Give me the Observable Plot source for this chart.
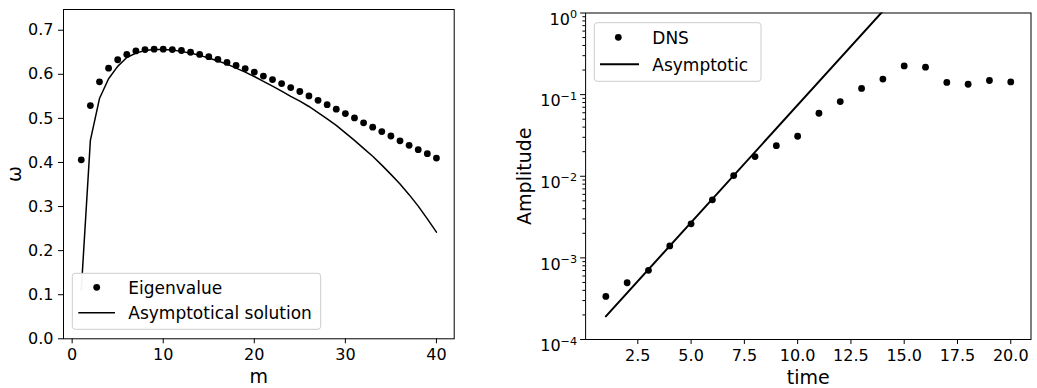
<!DOCTYPE html>
<html>
<head>
<meta charset="utf-8">
<script src="https://cdn.jsdelivr.net/npm/d3@7"></script>
<script src="https://cdn.jsdelivr.net/npm/@observablehq/plot@0.6"></script>
<style>
  html, body { margin: 0; padding: 0; background: white; }
  #wrap { position: relative; width: 1037px; height: 388px; overflow: hidden; font-family: "DejaVu Sans", sans-serif; }
  #left { position: absolute; left: 0; top: 0; }
  #right { position: absolute; left: 500px; top: 0; }
  #overlay { position: absolute; left: 0; top: 0; pointer-events: none; }
</style>
</head>
<body>
<div id="wrap">
  <div id="left"></div>
  <div id="right"></div>
</div>
<script>
// ---- Left panel data ----
const eigM = [1,2,3,4,5,6,7,8,9,10,11,12,13,14,15,16,17,18,19,20,21,22,23,24,25,26,27,28,29,30,31,32,33,34,35,36,37,38,39,40];
const eigOmega = [0.406,0.529,0.583,0.614,0.633,0.645,0.653,0.656,0.657,0.657,0.656,0.654,0.650,0.645,0.640,0.634,0.627,0.620,0.613,0.605,0.596,0.588,0.579,0.570,0.561,0.551,0.541,0.531,0.521,0.511,0.501,0.490,0.480,0.470,0.460,0.449,0.439,0.429,0.420,0.410];
const asymM = [1,2,3,4,5,6,7,8,9,10,11,12,13,14,15,16,17,18,19,20,21,22,23,24,25,26,27,28,29,30,31,32,33,34,35,36,37,38,39,40];
const asymOmega = [0.110,0.450,0.545,0.590,0.618,0.638,0.648,0.654,0.656,0.656,0.655,0.652,0.648,0.643,0.637,0.630,0.623,0.614,0.605,0.595,0.584,0.573,0.562,0.550,0.539,0.527,0.513,0.499,0.484,0.467,0.450,0.432,0.414,0.394,0.373,0.351,0.327,0.301,0.272,0.242];
const leftXTicks = [0,10,20,30,40];
const leftYTicks = [0,0.1,0.2,0.3,0.4,0.5,0.6,0.7];

// ---- Right panel data ----
const dnsTime = [1,2,3,4,5,6,7,8,9,10,11,12,13,14,15,16,17,18,19,20];
const dnsAmp = [3.37e-4,4.96e-4,7.04e-4,1.40e-3,2.61e-3,5.14e-3,1.02e-2,1.74e-2,2.37e-2,3.09e-2,5.91e-2,8.22e-2,0.119,0.155,0.225,0.217,0.141,0.134,0.149,0.143];
const asymTime = [1,14];
const asymAmp = [1.92e-4,1.054];
const rightXTicks = [2.5,5,7.5,10,12.5,15,17.5,20];
const rightYTicks = [1e-4,1e-3,1e-2,1e-1,1];
const rightYExp = ["\u22124","\u22123","\u22122","\u22121","0"];
const rightYMinor = [];
for (const dec of [1e-4,1e-3,1e-2,1e-1]) for (const k of [2,3,4,5,6,7,8,9]) rightYMinor.push(k*dec);

const baseStyle = {fontFamily: "DejaVu Sans", fontSize: "16px", color: "black", background: "white", overflow: "visible"};

const leftRows = eigM.map((m,i)=>({m, w: eigOmega[i]}));
const leftLine = asymM.map((m,i)=>({m, w: asymOmega[i]}));

const labelOpts = {textAnchor: "middle", lineAnchor: "middle", fontSize: 19};

const left = Plot.plot({
  width: 500, height: 388,
  marginLeft: 63, marginRight: 46.3, marginTop: 9, marginBottom: 49.7,
  style: baseStyle,
  x: {domain: [-0.95, 41.95]},
  y: {domain: [0, 0.747]},
  marks: [
    Plot.line(leftLine, {x: "m", y: "w", stroke: "black", strokeWidth: 1.5}),
    Plot.dot(leftRows, {x: "m", y: "w", r: 3.4, fill: "black", stroke: null}),
    Plot.frame({stroke: "black", strokeWidth: 1}),
    Plot.axisX({ticks: leftXTicks, tickSize: 5, tickPadding: 5, label: null, tickFormat: d => String(d)}),
    Plot.axisY({ticks: leftYTicks, tickSize: 5, tickPadding: 5, label: null, tickFormat: d => d.toFixed(1)}),
    Plot.text(["m"], {...labelOpts, text: d => d, frameAnchor: "bottom", dy: 38}),
    Plot.text(["\u03c9"], {...labelOpts, text: d => d, frameAnchor: "left", dx: -49, rotate: -90})
  ]
});
document.getElementById("left").appendChild(left);

const dnsRows = dnsTime.map((t,i)=>({t, a: dnsAmp[i]}));
const asymRows = asymTime.map((t,i)=>({t, a: asymAmp[i]}));

const right = Plot.plot({
  width: 537, height: 388,
  marginLeft: 85.1, marginRight: 6.5, marginTop: 12.5, marginBottom: 49,
  style: baseStyle,
  x: {domain: [0.05, 20.95]},
  y: {type: "log", domain: [1e-4, 1]},
  marks: [
    Plot.line(asymRows, {x: "t", y: "a", stroke: "black", strokeWidth: 2, clip: true}),
    Plot.dot(dnsRows, {x: "t", y: "a", r: 3.4, fill: "black", stroke: null}),
    Plot.frame({stroke: "black", strokeWidth: 1}),
    Plot.axisX({ticks: rightXTicks, tickSize: 5, tickPadding: 5, label: null, tickFormat: d => d.toFixed(1)}),
    Plot.axisY({ticks: rightYMinor, tickSize: 2.7, label: null, tickFormat: () => ""}),
    Plot.axisY({ticks: rightYTicks, tickSize: 5, tickPadding: 3.5, label: null,
      tickFormat: d => "10|" + rightYExp[rightYTicks.indexOf(d)]}),
    Plot.text(["time"], {...labelOpts, text: d => d, frameAnchor: "bottom", dy: 38}),
    Plot.text(["Amplitude"], {...labelOpts, text: d => d, frameAnchor: "left", dx: -60.6, rotate: -90})
  ]
});
document.getElementById("right").appendChild(right);

// superscript exponents on log tick labels
d3.select(right).selectAll("text").each(function() {
  const t = this.textContent;
  if (!t.includes("|")) return;
  const [b, e] = t.split("|");
  const sel = d3.select(this);
  sel.text(null);
  sel.attr("dy", "0.42em");
  sel.append("tspan").text(b);
  sel.append("tspan").attr("dy", "-6.8px").attr("font-size", "11.2px").text(e);
});

// legends
const overlay = d3.select("#wrap").append("svg")
  .attr("id", "overlay").attr("width", 1037).attr("height", 388)
  .style("font-family", "DejaVu Sans").style("font-size", "17px");

function legend(box, entries) {
  const g = overlay.append("g");
  g.append("rect").attr("x", box.x).attr("y", box.y).attr("width", box.w).attr("height", box.h)
    .attr("rx", 3).attr("fill", "white").attr("fill-opacity", 0.95).attr("stroke", "#cccccc").attr("stroke-width", 1);
  for (const e of entries) {
    if (e.kind === "dot") {
      g.append("circle").attr("cx", e.sx).attr("cy", e.cy).attr("r", 3.4).attr("fill", "black");
    } else {
      g.append("line").attr("x1", e.sx1).attr("x2", e.sx2).attr("y1", e.cy).attr("y2", e.cy)
        .attr("stroke", "black").attr("stroke-width", e.sw);
    }
    g.append("text").attr("x", e.tx).attr("y", e.cy + 6.2).attr("fill", "black").text(e.label);
  }
}
legend({x: 72.3, y: 273.3, w: 248.4, h: 56}, [
  {kind: "dot", sx: 96.7, cy: 287.3, tx: 128.3, label: "Eigenvalue"},
  {kind: "line", sx1: 78.3, sx2: 115, cy: 312.7, sw: 1.5, tx: 128.3, label: "Asymptotical solution"}
]);
legend({x: 594.3, y: 22.7, w: 166.7, h: 58.6}, [
  {kind: "dot", sx: 618.3, cy: 37.3, tx: 652.3, label: "DNS"},
  {kind: "line", sx1: 600, sx2: 639, cy: 64.3, sw: 2, tx: 652.3, label: "Asymptotic"}
]);
</script>
</body>
</html>
